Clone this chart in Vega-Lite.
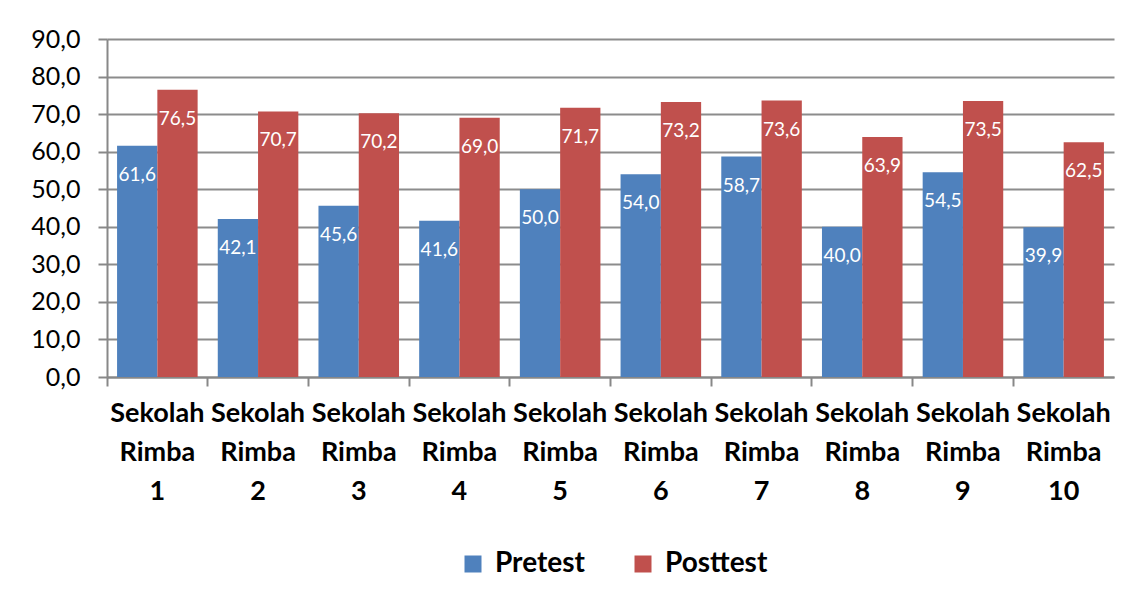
{
  "$schema": "https://vega.github.io/schema/vega-lite/v6.json",
  "width": 1007,
  "height": 338,
  "autosize": {"type": "none"},
  "padding": {"left": 107, "top": 39, "right": 21, "bottom": 217},
  "background": "white",
  "config": {
    "locale": {"number": {"decimal": ",", "thousands": ".", "grouping": [3], "currency": ["", " €"]}},
    "view": {"stroke": null},
    "font": "Lato"
  },
  "data": {
    "values": [
      {"school": "Sekolah Rimba 1", "test": "Pretest", "value": 61.6},
      {"school": "Sekolah Rimba 1", "test": "Posttest", "value": 76.5},
      {"school": "Sekolah Rimba 2", "test": "Pretest", "value": 42.1},
      {"school": "Sekolah Rimba 2", "test": "Posttest", "value": 70.7},
      {"school": "Sekolah Rimba 3", "test": "Pretest", "value": 45.6},
      {"school": "Sekolah Rimba 3", "test": "Posttest", "value": 70.2},
      {"school": "Sekolah Rimba 4", "test": "Pretest", "value": 41.6},
      {"school": "Sekolah Rimba 4", "test": "Posttest", "value": 69.0},
      {"school": "Sekolah Rimba 5", "test": "Pretest", "value": 50.0},
      {"school": "Sekolah Rimba 5", "test": "Posttest", "value": 71.7},
      {"school": "Sekolah Rimba 6", "test": "Pretest", "value": 54.0},
      {"school": "Sekolah Rimba 6", "test": "Posttest", "value": 73.2},
      {"school": "Sekolah Rimba 7", "test": "Pretest", "value": 58.7},
      {"school": "Sekolah Rimba 7", "test": "Posttest", "value": 73.6},
      {"school": "Sekolah Rimba 8", "test": "Pretest", "value": 40.0},
      {"school": "Sekolah Rimba 8", "test": "Posttest", "value": 63.9},
      {"school": "Sekolah Rimba 9", "test": "Pretest", "value": 54.5},
      {"school": "Sekolah Rimba 9", "test": "Posttest", "value": 73.5},
      {"school": "Sekolah Rimba 10", "test": "Pretest", "value": 39.9},
      {"school": "Sekolah Rimba 10", "test": "Posttest", "value": 62.5}
    ]
  },
  "encoding": {
    "x": {
      "field": "school", "type": "nominal", "sort": null,
      "scale": {"paddingInner": 0, "paddingOuter": 0},
      "axis": {
        "title": null, "labelAngle": 0, "bandPosition": 0,
        "labelExpr": "split(datum.label, ' ')",
        "labelFont": "Lato", "labelFontWeight": "bold", "labelFontSize": 27,
        "labelColor": "black", "labelLineHeight": 39, "labelPadding": 27,
        "labelBaseline": "middle", "labelOverlap": false, "labelBound": false,
        "domainColor": "#888888", "domainWidth": 2,
        "tickColor": "#888888", "tickWidth": 2, "tickSize": 9,
        "grid": false
      }
    },
    "xOffset": {
      "field": "test", "type": "nominal", "sort": ["Pretest", "Posttest"],
      "scale": {"paddingInner": 0, "paddingOuter": 0.25}
    },
    "y": {
      "field": "value", "type": "quantitative",
      "scale": {"domain": [0, 90], "nice": false},
      "axis": {
        "title": null, "values": [0, 10, 20, 30, 40, 50, 60, 70, 80, 90],
        "format": ".1f",
        "labelFont": "Lato", "labelFontSize": 25, "labelColor": "black",
        "labelPadding": 18,
        "domainColor": "#888888", "domainWidth": 2,
        "tickColor": "#888888", "tickWidth": 2, "tickSize": 9,
        "grid": true, "gridColor": "#8c8c8c", "gridWidth": 2
      }
    }
  },
  "layer": [
    {
      "mark": {"type": "bar"},
      "encoding": {
        "color": {
          "field": "test", "type": "nominal",
          "scale": {"domain": ["Pretest", "Posttest"], "range": ["#4F81BD", "#C0504D"]},
          "legend": {
            "title": null, "orient": "none", "direction": "horizontal",
            "legendX": 352, "legendY": 511,
            "symbolType": "square", "symbolSize": 289, "symbolStrokeWidth": 0,
            "labelFont": "Lato", "labelFontWeight": "bold", "labelFontSize": 28,
            "labelColor": "black", "labelOffset": 8, "columnPadding": 44
          }
        }
      }
    },
    {
      "mark": {"type": "text", "color": "white", "font": "Lato", "fontSize": 19, "baseline": "middle", "dy": 29},
      "encoding": {
        "text": {"field": "value", "type": "quantitative", "format": ".1f"}
      }
    }
  ]
}
